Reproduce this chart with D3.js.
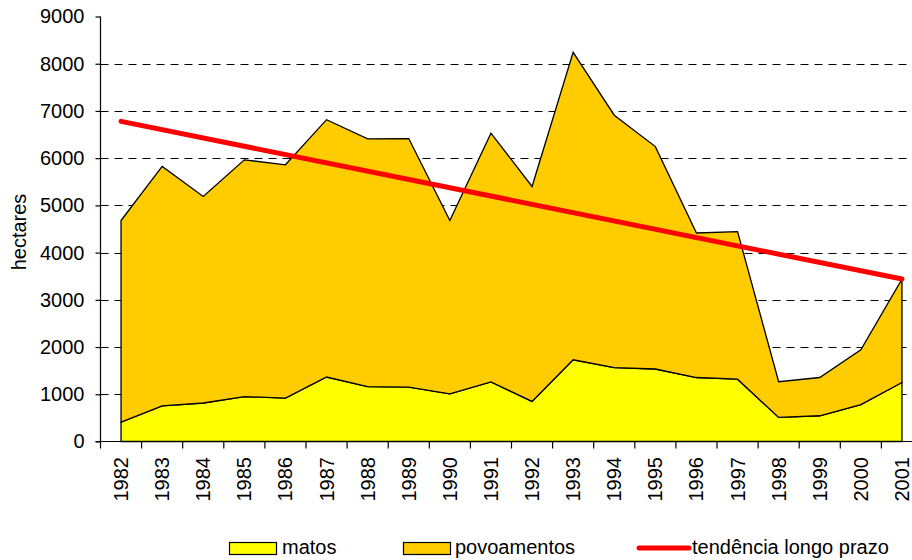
<!DOCTYPE html>
<html>
<head>
<meta charset="utf-8">
<script src="https://cdn.jsdelivr.net/npm/d3@7"></script>
<style>
  html, body { margin: 0; padding: 0; background: #fff; }
  svg { display: block; font-family: "Liberation Sans", Arial, sans-serif; }
</style>
</head>
<body>
<svg id="chart" width="912" height="560"></svg>
<script>
// Burnt area per year (hectares), stacked: scrubland under plantations
const years = ["1982","1983","1984","1985","1986","1987","1988","1989","1990","1991",
               "1992","1993","1994","1995","1996","1997","1998","1999","2000","2001"];
const matos = [410, 755, 815, 950, 920, 1365, 1160, 1150, 1010, 1260,
               850, 1730, 1565, 1535, 1355, 1320, 510, 545, 780, 1250];
const povoamentos = [4270, 5070, 4375, 5015, 4940, 5450, 5250, 5265, 3670, 5270,
                     4550, 6510, 5345, 4710, 3060, 3125, 755, 810, 1160, 2190];
// Long-term trend line: values at first and last year
const trendYears = ["1982", "2001"];
const trendValues = [6780, 3440];
const yTicks = [0, 1000, 2000, 3000, 4000, 5000, 6000, 7000, 8000, 9000];
const gridTicks = [1000, 2000, 3000, 4000, 5000, 6000, 7000, 8000];

const svg = d3.select("#chart");
const plotLeft = 100.5, plotRight = 922.5, plotTop = 16.5, plotBottom = 441.5;

const x = d3.scaleBand().domain(years).range([plotLeft, plotRight]).padding(0);
const cx = d => x(d) + x.bandwidth() / 2;
const y = d3.scaleLinear().domain([0, 9000]).range([plotBottom, plotTop]);

// Gridlines
svg.append("g").selectAll("line").data(gridTicks).join("line")
  .attr("x1", plotLeft).attr("x2", plotRight)
  .attr("y1", d => Math.round(y(d)) + 0.5).attr("y2", d => Math.round(y(d)) + 0.5)
  .attr("stroke", "#000").attr("stroke-width", 1)
  .attr("stroke-dasharray", "8,6");

// Stacked areas
const rows = years.map((yr, i) => ({ year: yr, matos: matos[i], povoamentos: povoamentos[i] }));
const stack = d3.stack().keys(["matos", "povoamentos"]);
const series = stack(rows);
const colors = { matos: "#FFFF00", povoamentos: "#FFCC00" };

const area = d3.area()
  .x(d => cx(d.data.year))
  .y0(d => y(d[0]))
  .y1(d => y(d[1]));

svg.append("g").selectAll("path").data(series).join("path")
  .attr("d", area)
  .attr("fill", s => colors[s.key])
  .attr("stroke", "#000")
  .attr("stroke-width", 1.3)
  .attr("stroke-linejoin", "miter");

// Trend line
const trend = trendYears.map((yr, i) => ({ year: yr, v: trendValues[i] }));
svg.append("path")
  .datum(trend)
  .attr("d", d3.line().x(d => cx(d.year)).y(d => y(d.v)))
  .attr("fill", "none")
  .attr("stroke", "#FF0000")
  .attr("stroke-width", 5)
  .attr("stroke-linecap", "round");

// Y axis
const yAxis = d3.axisLeft(y).tickValues(yTicks).tickSize(5).tickPadding(11).tickFormat(d3.format("d"));
const gy = svg.append("g").attr("transform", `translate(${plotLeft},0)`).call(yAxis);
gy.select(".domain").attr("d", `M0,${plotTop}V${plotBottom}`).attr("stroke", "#000").attr("stroke-width", 1.2);
gy.selectAll(".tick line").attr("stroke", "#000").attr("stroke-width", 1.2);
gy.selectAll(".tick text").attr("font-size", 20).attr("fill", "#000")
  .attr("font-family", "'Liberation Sans', Arial, sans-serif");

// X axis: ticks at category boundaries
const gx = svg.append("g");
gx.append("line")
  .attr("x1", plotLeft - 5).attr("x2", plotRight)
  .attr("y1", plotBottom).attr("y2", plotBottom)
  .attr("stroke", "#000").attr("stroke-width", 1.2);
gx.selectAll("line.tk").data(years).join("line").attr("class", "tk")
  .attr("x1", d => x(d)).attr("x2", d => x(d))
  .attr("y1", plotBottom).attr("y2", plotBottom + 7)
  .attr("stroke", "#000").attr("stroke-width", 1.2);
gx.selectAll("text").data(years).join("text")
  .attr("transform", d => `translate(${cx(d) + 7},457) rotate(-90)`)
  .attr("text-anchor", "end")
  .attr("font-size", 20)
  .attr("fill", "#000")
  .text(d => d);

// Y axis title
svg.append("text")
  .attr("transform", "translate(25.5,232) rotate(-90)")
  .attr("text-anchor", "middle")
  .attr("font-size", 20)
  .attr("fill", "#000")
  .text("hectares");

// Legend
const lg = svg.append("g");
lg.append("rect").attr("x", 229.5).attr("y", 542.5).attr("width", 47).attr("height", 12)
  .attr("fill", colors.matos).attr("stroke", "#000").attr("stroke-width", 1.2);
lg.append("text").attr("x", 282).attr("y", 554).attr("font-size", 20).attr("fill", "#000").text("matos");
lg.append("rect").attr("x", 403.5).attr("y", 542.5).attr("width", 47).attr("height", 12)
  .attr("fill", colors.povoamentos).attr("stroke", "#000").attr("stroke-width", 1.2);
lg.append("text").attr("x", 455).attr("y", 554).attr("font-size", 20).attr("fill", "#000").text("povoamentos");
lg.append("line").attr("x1", 639).attr("x2", 689).attr("y1", 548).attr("y2", 548)
  .attr("stroke", "#FF0000").attr("stroke-width", 5).attr("stroke-linecap", "round");
lg.append("text").attr("x", 692).attr("y", 554).attr("font-size", 20).attr("fill", "#000").text("tendência longo prazo");
</script>
</body>
</html>
